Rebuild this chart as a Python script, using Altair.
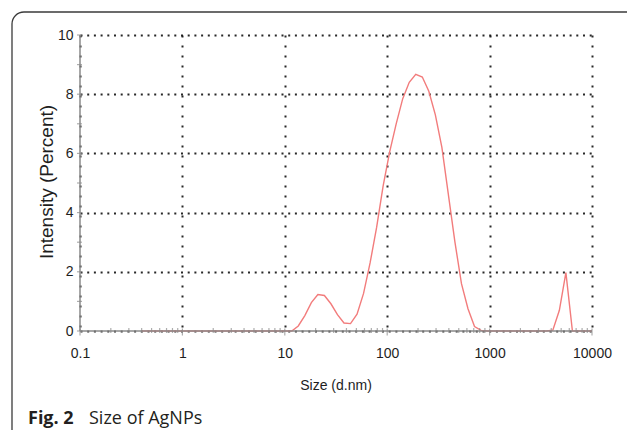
import math
import altair as alt
import pandas as pd

# ---- data ----
sizes = [0.4, 0.4632, 0.5365, 0.6213, 0.7195, 0.8332, 0.9649, 1.117, 1.294, 1.499,
         1.736, 2.01, 2.328, 2.696, 3.122, 3.615, 4.187, 4.849, 5.615, 6.503,
         7.531, 8.721, 10.1, 11.7, 13.54, 15.69, 18.17, 21.04, 24.36, 28.21,
         32.67, 37.84, 43.82, 50.75, 58.77, 68.06, 78.82, 91.28, 105.7, 122.4,
         141.8, 164.2, 190.1, 220.2, 255.0, 295.3, 342.0, 396.1, 458.7, 531.2,
         615.1, 712.4, 825.0, 955.4, 1106, 1281, 1484, 1718, 1990, 2305,
         2669, 3091, 3580, 4145, 4801, 5560, 6439, 7456, 8635, 10000]
intensity = [0, 0, 0, 0, 0, 0, 0, 0, 0, 0,
             0, 0, 0, 0, 0, 0, 0, 0, 0, 0,
             0, 0, 0, 0, 0.17, 0.52, 0.96, 1.23, 1.2, 0.92,
             0.55, 0.27, 0.25, 0.57, 1.27, 2.3, 3.5, 4.9, 6.05, 7.0,
             7.85, 8.4, 8.67, 8.58, 8.1, 7.3, 6.2, 4.6, 3.0, 1.6,
             0.75, 0.15, 0.02, 0, 0, 0, 0, 0, 0, 0,
             0, 0, 0, 0.03, 0.7, 1.97, 0, 0, 0, 0]

x_major = [0.1, 1, 10, 100, 1000, 10000]
x_minor = [m * 10 ** e for e in range(-1, 4) for m in range(2, 10)]
y_major = [0, 2, 4, 6, 8, 10]
y_minor = [1, 3, 5, 7, 9]

W, H = 512, 296
SANS = "Liberation Sans"
CAP = "Open Sans"
AXIS_GRAY = "#8a8a8a"
TXT = "#1e1e1e"
FRAME = "#3a3a3a"

df = pd.DataFrame({"size": sizes, "intensity": intensity})
one = pd.DataFrame({"k": [0]})

xscale = alt.Scale(type="log", domain=[0.1, 10000], nice=False)
yscale = alt.Scale(domain=[0, 10], nice=False)

line = alt.Chart(df).mark_line(color="#f27c7c", strokeWidth=1.4).encode(
    x=alt.X("size:Q", scale=xscale,
            axis=alt.Axis(values=x_major, format="~g", title=None, grid=True,
                          gridDash=[2, 8], gridColor="#111", gridWidth=2, gridOpacity=0.9,
                          domain=False, ticks=False, labelFont=SANS, labelFontSize=14,
                          labelColor=TXT, labelPadding=15, labelFlush=False,
                          labelOverlap=False, labelBound=False)),
    y=alt.Y("intensity:Q", scale=yscale,
            axis=alt.Axis(values=y_major, title=None, grid=True,
                          gridDash=[2, 4.7], gridColor="#111", gridWidth=2, gridOpacity=0.9,
                          domain=False, ticks=False, labelFont=SANS, labelFontSize=14,
                          labelColor=TXT, labelPadding=7)),
)

xt_major = alt.Chart(pd.DataFrame({"v": x_major})).mark_tick(
    color=AXIS_GRAY, size=7, thickness=1.2, yOffset=1).encode(
    x=alt.X("v:Q", scale=xscale), y=alt.value(H))
xt_minor = alt.Chart(pd.DataFrame({"v": x_minor})).mark_tick(
    color=AXIS_GRAY, size=5, thickness=1.2, yOffset=-0.5).encode(
    x=alt.X("v:Q", scale=xscale), y=alt.value(H))
yt = alt.Chart(pd.DataFrame({"v": y_major + y_minor})).mark_tick(
    color=AXIS_GRAY, size=5, thickness=1.2, xOffset=-0.5).encode(
    y=alt.Y("v:Q", scale=yscale), x=alt.value(0))

y_line = alt.Chart(one).mark_rule(color=AXIS_GRAY, strokeWidth=1.5).encode(
    x=alt.value(0), y=alt.value(0), y2=alt.value(H))
x_line = alt.Chart(one).mark_rule(color=AXIS_GRAY, strokeWidth=1.5).encode(
    x=alt.value(0), x2=alt.value(W), y=alt.value(H))

x_title = alt.Chart(one).mark_text(
    text="Size (d.nm)", font=SANS, fontSize=14, color=TXT,
    align="center", baseline="middle").encode(x=alt.value(W / 2), y=alt.value(351))
y_title = alt.Chart(one).mark_text(
    text="Intensity (Percent)", font=SANS, fontSize=19, color=TXT, angle=270,
    align="center", baseline="middle").encode(x=alt.value(-33), y=alt.value(147))

cap_bold = alt.Chart(one).mark_text(
    text="Fig. 2", font=CAP, fontSize=18, fontWeight="bold", color="#231f20",
    align="left", baseline="alphabetic").encode(x=alt.value(-52), y=alt.value(389))
cap_text = alt.Chart(one).mark_text(
    text="Size of AgNPs", font=CAP, fontSize=18, color="#231f20",
    align="left", baseline="alphabetic").encode(x=alt.value(9), y=alt.value(389))

# frame: top and left edges with a rounded top-left corner
R = 12
frame_top = alt.Chart(one).mark_rule(color=FRAME, strokeWidth=1.3).encode(
    x=alt.value(-68 + R), x2=alt.value(W + 40), y=alt.value(-23))
frame_left = alt.Chart(one).mark_rule(color=FRAME, strokeWidth=1.3).encode(
    x=alt.value(-68), y=alt.value(-23 + R), y2=alt.value(H + 110))
frame_corner = alt.Chart(one).mark_arc(
    color=FRAME, innerRadius=R - 0.65, outerRadius=R + 0.65,
    theta=1.5 * math.pi, theta2=2 * math.pi).encode(
    x=alt.value(-68 + R), y=alt.value(-23 + R))

chart = alt.layer(
    line, y_line, x_line, xt_major, xt_minor, yt,
    x_title, y_title, cap_bold, cap_text, frame_top, frame_left, frame_corner
).properties(
    width=W, height=H,
    autosize=alt.AutoSizeParams(type="none"),
    padding={"left": 80, "top": 35, "right": 35, "bottom": 99},
    background="white",
).configure_view(stroke=None)

chart.save("out.html", embed_options={"renderer": "svg", "actions": False})
